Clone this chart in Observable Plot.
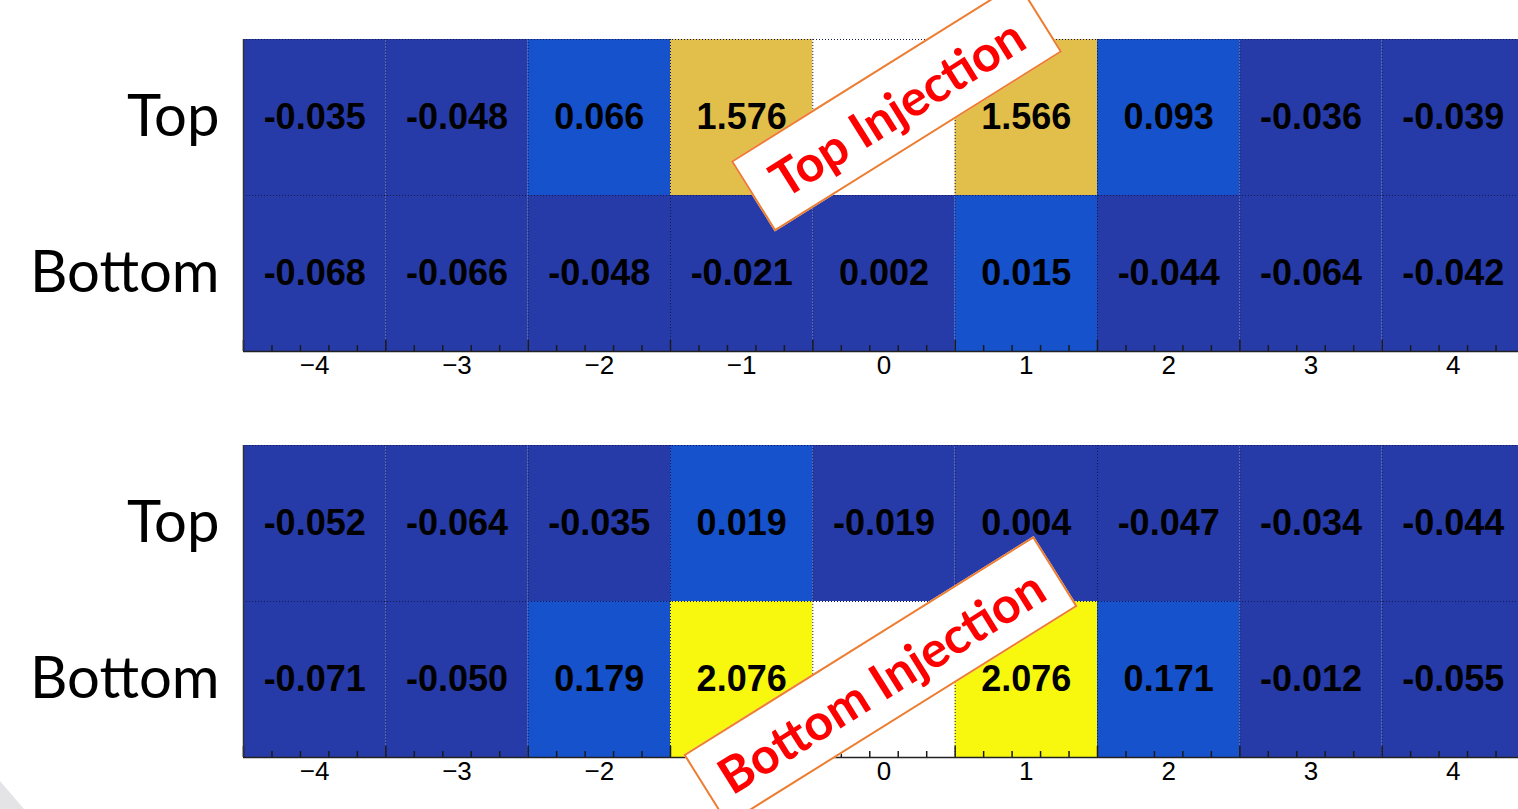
<!DOCTYPE html>
<html>
<head>
<meta charset="utf-8">
<script src="https://cdn.jsdelivr.net/npm/d3@7"></script>
<script src="https://cdn.jsdelivr.net/npm/@observablehq/plot@0.6"></script>
<style>
  html, body { margin: 0; padding: 0; background: #fff; overflow: hidden; }
  #page { position: relative; width: 1518px; height: 809px; overflow: hidden; background: #fff; }
  #page svg { display: block; max-width: none !important; }
  .deco { position: absolute; left: 0; top: 0; width: 1518px; height: 809px;
          background: #e4e4e7; clip-path: polygon(0px 781px, 24px 809px, 0px 809px); }
  .callout { position: absolute; box-sizing: border-box; background: #fff;
             border: 2px solid #ED7D31; color: #ff0000; font-family: Lato, "Open Sans", sans-serif;
             font-weight: 700; font-size: 50px; display: flex; align-items: center; justify-content: center;
             white-space: nowrap; transform: rotate(-32deg); }
</style>
</head>
<body>
<div id="page"><div class="deco"></div></div>
<script>
// ---- data ----
const columns = [-4, -3, -2, -1, 0, 1, 2, 3, 4];
const rowNames = ["Bottom", "Top"];           // row index 0 = Bottom, 1 = Top
// Panel 1: Top Injection
const topInj_Top    = [-0.035, -0.048, 0.066, 1.576, null, 1.566, 0.093, -0.036, -0.039];
const topInj_Bottom = [-0.068, -0.066, -0.048, -0.021, 0.002, 0.015, -0.044, -0.064, -0.042];
// Panel 2: Bottom Injection
const botInj_Top    = [-0.052, -0.064, -0.035, 0.019, -0.019, 0.004, -0.047, -0.034, -0.044];
const botInj_Bottom = [-0.071, -0.050, 0.179, 2.076, null, 2.076, 0.171, -0.012, -0.055];
const xTickLabels = columns;
const colorThresholds = [0.01, 1, 2];
const colorRange = ["#263BA8", "#1652CC", "#E2BF4A", "#F8F80E"];
const annotations = [
  { panel: 0, label: "Top Injection", col: 0.09, row: 1.57, w: 339, h: 83 },
  { panel: 1, label: "Bottom Injection", col: -0.02, row: 0.49, w: 413, h: 83 }
];

function cells(topVals, bottomVals) {
  const out = [];
  [[bottomVals, 0], [topVals, 1]].forEach(([vals, r]) => {
    columns.forEach((c, i) => { if (vals[i] != null) out.push({ col: c, row: r, value: vals[i] }); });
  });
  return out;
}

const boundaries = d3.range(-4.5, 4.51, 1);
const innerBoundaries = boundaries.slice(1, -1);
const minorTicks = d3.range(-4.5, 4.51, 0.2).filter(v => Math.abs(v * 2 - Math.round(v * 2)) > 0.01);
const fmtInt = d3.format("d");

function panel(data, height, marginTop, marginBottom) {
  return Plot.plot({
    width: 1530, height, marginLeft: 243, marginRight: 6, marginTop, marginBottom,
    style: { maxWidth: "none" },
    x: { type: "linear", domain: [-4.5, 4.5] },
    y: { type: "linear", domain: [0, 2] },
    color: { type: "threshold", domain: colorThresholds, range: colorRange },
    marks: [
      Plot.rect(data, { x1: d => d.col - 0.5, x2: d => d.col + 0.5, y1: "row", y2: d => d.row + 1, fill: "value" }),
      Plot.ruleX(innerBoundaries, { stroke: "#141a50", strokeWidth: 1, strokeDasharray: "1,2" }),
      Plot.ruleY([1, 2], { stroke: "#141a50", strokeWidth: 1, strokeDasharray: "1,2" }),
      Plot.text(data, { x: "col", y: d => d.row + 0.5, text: d => d.value.toFixed(3),
        fontSize: 36, fontWeight: "bold", fontFamily: "'Liberation Sans', Arial, sans-serif", fill: "#000" }),
      Plot.ruleX(boundaries, { y1: 0, y2: 0, insetTop: -11, stroke: "#1a1a1a", strokeWidth: 1.5 }),
      Plot.ruleX(minorTicks, { y1: 0, y2: 0, insetTop: -6, stroke: "#1a1a1a", strokeWidth: 1.5 }),
      Plot.ruleY([0], { stroke: "#222", strokeWidth: 1.5 }),
      Plot.ruleX([-4.5], { stroke: "#333", strokeWidth: 1.5 }),
      Plot.axisX(xTickLabels, { anchor: "bottom", tickSize: 0, tickPadding: 4, label: null,
        tickFormat: fmtInt,
        fontSize: 26, fontFamily: "'Liberation Sans', Arial, sans-serif", fill: "#000" }),
      Plot.axisY([0.5, 1.5], { anchor: "left", tickSize: 0, tickPadding: 24, label: null,
        tickFormat: v => rowNames[Math.floor(v)], fontSize: 58, fontFamily: "Lato, 'Open Sans', sans-serif", fill: "#000" })
    ]
  });
}

const page = document.getElementById("page");
const p1 = panel(cells(topInj_Top, topInj_Bottom), 396, 39, 45);
const p2 = panel(cells(botInj_Top, botInj_Bottom), 413, 49, 52);
[p1, p2].forEach(p => { p.style.maxWidth = "none"; page.appendChild(p); });

const panels = [p1, p2];
const offsets = [0, 396];
annotations.forEach(a => {
  const p = panels[a.panel];
  const cx = p.scale("x").apply(a.col);
  const cy = p.scale("y").apply(a.row) + offsets[a.panel];
  const div = document.createElement("div");
  div.className = "callout";
  div.textContent = a.label;
  div.style.width = a.w + "px";
  div.style.height = a.h + "px";
  div.style.left = (cx - a.w / 2) + "px";
  div.style.top = (cy - a.h / 2) + "px";
  page.appendChild(div);
});
</script>
</body>
</html>
